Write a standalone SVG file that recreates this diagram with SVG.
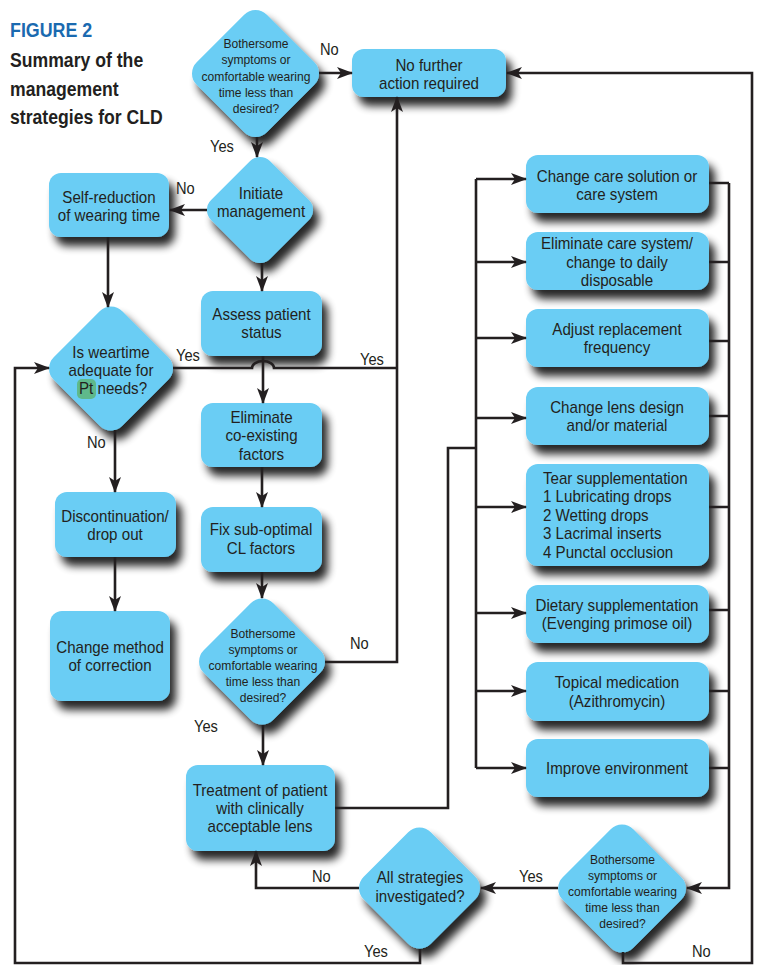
<svg xmlns="http://www.w3.org/2000/svg" width="758" height="965" viewBox="0 0 758 965">
<defs>
<style>
.n{fill:#6acdf4}
.t{font-family:'Liberation Sans',Arial,sans-serif;font-size:17px;fill:#231f20;text-anchor:middle}
.s{font-size:13.6px}
.l{font-size:16.5px;text-anchor:start}
.st{text-anchor:start}
.h{font-family:'Liberation Sans',Arial,sans-serif;font-size:21px;font-weight:bold;fill:#231f20}
.c{fill:none;stroke:#231f20;stroke-width:2.6}
.a{marker-end:url(#ah)}
</style>
<filter id="sh" x="-20%" y="-20%" width="150%" height="160%">
<feGaussianBlur in="SourceAlpha" stdDeviation="4"/>
<feOffset dx="6" dy="9"/>
<feComponentTransfer><feFuncA type="linear" slope="0.85"/></feComponentTransfer>
<feMerge><feMergeNode/><feMergeNode in="SourceGraphic"/></feMerge>
</filter>
<marker id="ah" viewBox="0 0 16 12" refX="15" refY="6" markerWidth="16" markerHeight="12" markerUnits="userSpaceOnUse" orient="auto"><path d="M0,0 L16,6 L0,12 L4,6 z" fill="#231f20"/></marker>
</defs>
<rect width="758" height="965" fill="#ffffff"/>

<g id="title">
<text class="h" transform="matrix(0.85 0 0 1 10 0)" x="0" y="37" style="fill:#1a6ab0">FIGURE 2</text>
<text class="h" transform="matrix(0.84 0 0 1 10 0)"><tspan x="0" y="67">Summary of the</tspan><tspan x="0" y="96">management</tspan><tspan x="0" y="124">strategies for CLD</tspan></text>
</g>

<g id="d1">
<g filter="url(#sh)"><rect class="n" x="205.9" y="23.9" width="99.2" height="99.2" rx="16" transform="rotate(45 255.5 73.5)"/></g>
<text class="t s" transform="matrix(0.89 0 0 1 256 0)"><tspan x="0" y="48">Bothersome</tspan><tspan x="0" y="64">symptoms or</tspan><tspan x="0" y="81">comfortable wearing</tspan><tspan x="0" y="97">time less than</tspan><tspan x="0" y="113">desired?</tspan></text>
</g>

<g id="nofurther">
<rect class="n" x="352" y="49" width="154" height="48" rx="12" filter="url(#sh)"/>
<text class="t" transform="matrix(0.89 0 0 1 429 0)"><tspan x="0" y="71">No further</tspan><tspan x="0" y="89">action required</tspan></text>
</g>

<g id="d2">
<g filter="url(#sh)"><rect class="n" x="218.4" y="168.4" width="83.2" height="83.2" rx="14" transform="rotate(45 260 210)"/></g>
<text class="t" transform="matrix(0.89 0 0 1 261 0)"><tspan x="0" y="199">Initiate</tspan><tspan x="0" y="217">management</tspan></text>
</g>

<g id="selfred">
<rect class="n" x="49" y="173" width="120" height="64" rx="12" filter="url(#sh)"/>
<text class="t" transform="matrix(0.89 0 0 1 109 0)"><tspan x="0" y="203">Self-reduction</tspan><tspan x="0" y="221">of wearing time</tspan></text>
</g>

<g id="d3">
<g filter="url(#sh)"><rect class="n" x="62.5" y="320" width="97" height="97" rx="16" transform="rotate(45 111 368.5)"/></g>
<rect x="77" y="379" width="19" height="20" rx="5" fill="#5fb98b"/>
<text class="t" transform="matrix(0.89 0 0 1 111 0)"><tspan x="0" y="358">Is weartime</tspan><tspan x="0" y="376">adequate for</tspan></text>
<text class="t st" transform="matrix(0.89 0 0 1 79 0)" x="0" y="394">Pt needs?</text>
</g>

<g id="assess">
<rect class="n" x="201" y="291" width="121" height="65" rx="12" filter="url(#sh)"/>
<text class="t" transform="matrix(0.89 0 0 1 261.5 0)"><tspan x="0" y="320">Assess patient</tspan><tspan x="0" y="338">status</tspan></text>
</g>

<g id="eliminate">
<rect class="n" x="201" y="403" width="121" height="64" rx="12" filter="url(#sh)"/>
<text class="t" transform="matrix(0.89 0 0 1 261.5 0)"><tspan x="0" y="423">Eliminate</tspan><tspan x="0" y="441">co-existing</tspan><tspan x="0" y="460">factors</tspan></text>
</g>

<g id="fix">
<rect class="n" x="201" y="507" width="121" height="65" rx="12" filter="url(#sh)"/>
<text class="t" transform="matrix(0.89 0 0 1 261 0)"><tspan x="0" y="535">Fix sub-optimal</tspan><tspan x="0" y="554">CL factors</tspan></text>
</g>

<g id="discont">
<rect class="n" x="55" y="492" width="121" height="65" rx="12" filter="url(#sh)"/>
<text class="t" transform="matrix(0.89 0 0 1 115 0)"><tspan x="0" y="522">Discontinuation/</tspan><tspan x="0" y="540">drop out</tspan></text>
</g>

<g id="changemethod">
<rect class="n" x="50" y="611" width="120" height="90" rx="12" filter="url(#sh)"/>
<text class="t" transform="matrix(0.89 0 0 1 110 0)"><tspan x="0" y="653">Change method</tspan><tspan x="0" y="671">of correction</tspan></text>
</g>

<g id="d4">
<g filter="url(#sh)"><rect class="n" x="212.8" y="612.3" width="98.4" height="98.4" rx="16" transform="rotate(45 262 661.5)"/></g>
<text class="t s" transform="matrix(0.89 0 0 1 263 0)"><tspan x="0" y="638">Bothersome</tspan><tspan x="0" y="654">symptoms or</tspan><tspan x="0" y="670">comfortable wearing</tspan><tspan x="0" y="686">time less than</tspan><tspan x="0" y="702">desired?</tspan></text>
</g>

<g id="treatment">
<rect class="n" x="186" y="765" width="149" height="86" rx="12" filter="url(#sh)"/>
<text class="t" transform="matrix(0.89 0 0 1 260 0)"><tspan x="0" y="796">Treatment of patient</tspan><tspan x="0" y="814">with clinically</tspan><tspan x="0" y="832">acceptable lens</tspan></text>
</g>

<g id="boxA">
<rect class="n" x="526" y="155" width="183" height="58" rx="12" filter="url(#sh)"/>
<text class="t" transform="matrix(0.89 0 0 1 617 0)"><tspan x="0" y="182">Change care solution or</tspan><tspan x="0" y="200">care system</tspan></text>
</g>
<g id="boxB">
<rect class="n" x="526" y="232" width="183" height="58" rx="12" filter="url(#sh)"/>
<text class="t" transform="matrix(0.89 0 0 1 617 0)"><tspan x="0" y="249">Eliminate care system/</tspan><tspan x="0" y="268">change to daily</tspan><tspan x="0" y="286">disposable</tspan></text>
</g>
<g id="boxC">
<rect class="n" x="526" y="309" width="183" height="58" rx="12" filter="url(#sh)"/>
<text class="t" transform="matrix(0.89 0 0 1 617 0)"><tspan x="0" y="335">Adjust replacement</tspan><tspan x="0" y="353">frequency</tspan></text>
</g>
<g id="boxD">
<rect class="n" x="526" y="387" width="183" height="58" rx="12" filter="url(#sh)"/>
<text class="t" transform="matrix(0.89 0 0 1 617 0)"><tspan x="0" y="413">Change lens design</tspan><tspan x="0" y="431">and/or material</tspan></text>
</g>
<g id="boxE">
<rect class="n" x="526" y="464" width="183" height="102" rx="12" filter="url(#sh)"/>
<text class="t st" transform="matrix(0.89 0 0 1 543 0)"><tspan x="0" y="484">Tear supplementation</tspan><tspan x="0" y="502">1 Lubricating drops</tspan><tspan x="0" y="521">2 Wetting drops</tspan><tspan x="0" y="539">3 Lacrimal inserts</tspan><tspan x="0" y="558">4 Punctal occlusion</tspan></text>
</g>
<g id="boxF">
<rect class="n" x="526" y="585" width="183" height="58" rx="12" filter="url(#sh)"/>
<text class="t" transform="matrix(0.89 0 0 1 617 0)"><tspan x="0" y="611">Dietary supplementation</tspan><tspan x="0" y="629">(Evenging primose oil)</tspan></text>
</g>
<g id="boxG">
<rect class="n" x="526" y="662" width="183" height="59" rx="12" filter="url(#sh)"/>
<text class="t" transform="matrix(0.89 0 0 1 617 0)"><tspan x="0" y="688">Topical medication</tspan><tspan x="0" y="707">(Azithromycin)</tspan></text>
</g>
<g id="boxH">
<rect class="n" x="526" y="739" width="183" height="58" rx="12" filter="url(#sh)"/>
<text class="t" transform="matrix(0.89 0 0 1 617 0)" x="0" y="774">Improve environment</text>
</g>

<g id="d5">
<g filter="url(#sh)"><rect class="n" x="572.1" y="838.6" width="99.8" height="99.8" rx="16" transform="rotate(45 622 888.5)"/></g>
<text class="t s" transform="matrix(0.89 0 0 1 622.5 0)"><tspan x="0" y="864">Bothersome</tspan><tspan x="0" y="880">symptoms or</tspan><tspan x="0" y="896">comfortable wearing</tspan><tspan x="0" y="912">time less than</tspan><tspan x="0" y="928">desired?</tspan></text>
</g>

<g id="d6">
<g filter="url(#sh)"><rect class="n" x="372.05" y="840.55" width="94.9" height="94.9" rx="16" transform="rotate(45 419.5 888)"/></g>
<text class="t" transform="matrix(0.89 0 0 1 420 0)"><tspan x="0" y="883">All strategies</tspan><tspan x="0" y="902">investigated?</tspan></text>
</g>

<g id="connectors">
<path class="c a" d="M319,73 H352"/>
<path class="c a" d="M257,137 V157"/>
<path class="c a" d="M207,210 H170"/>
<path class="c a" d="M262,263 V291"/>
<path class="c a" d="M108,237 V307"/>
<path class="c a" d="M115,430 V492"/>
<path class="c a" d="M115,557 V611"/>
<path class="c a" d="M263,356 V403"/>
<path class="c a" d="M262,467 V507"/>
<path class="c a" d="M262,572 V598"/>
<path class="c a" d="M263,725 V765"/>
<path class="c" d="M173,368 H252 A11,7 0 0 1 274,368 H397"/>
<path class="c a" d="M325,662 H397 V97"/>
<path class="c a" d="M359,888 H256 V851"/>
<path class="c a" d="M558,888 H481"/>
<path class="c a" d="M623,952 V963 H752 V73 H507"/>
<path class="c a" d="M420,949 V963 H15 V368 H49"/>
<path class="c" d="M335,808 H448 V448 H476"/>
<path class="c" d="M476,179 V768"/>
<path class="c a" d="M476,179 H526"/>
<path class="c a" d="M476,262 H526"/>
<path class="c a" d="M476,338 H526"/>
<path class="c a" d="M476,418 H526"/>
<path class="c a" d="M476,507 H526"/>
<path class="c a" d="M476,613 H526"/>
<path class="c a" d="M476,691 H526"/>
<path class="c a" d="M476,768 H526"/>
<path class="c" d="M709,183 H729 M709,262 H729 M709,341 H729 M709,416 H729 M709,507 H729 M709,610 H729 M709,691 H729 M709,768 H729"/>
<path class="c a" d="M729,183 V888 H687"/>
</g>

<g id="labels">
<text class="t l" transform="matrix(0.89 0 0 1 320 0)" x="0" y="55">No</text>
<text class="t l" transform="matrix(0.89 0 0 1 210 0)" x="0" y="152">Yes</text>
<text class="t l" transform="matrix(0.89 0 0 1 176 0)" x="0" y="194">No</text>
<text class="t l" transform="matrix(0.89 0 0 1 176 0)" x="0" y="361">Yes</text>
<text class="t l" transform="matrix(0.89 0 0 1 360 0)" x="0" y="365">Yes</text>
<text class="t l" transform="matrix(0.89 0 0 1 87 0)" x="0" y="448">No</text>
<text class="t l" transform="matrix(0.89 0 0 1 350 0)" x="0" y="649">No</text>
<text class="t l" transform="matrix(0.89 0 0 1 194 0)" x="0" y="732">Yes</text>
<text class="t l" transform="matrix(0.89 0 0 1 312 0)" x="0" y="882">No</text>
<text class="t l" transform="matrix(0.89 0 0 1 519 0)" x="0" y="882">Yes</text>
<text class="t l" transform="matrix(0.89 0 0 1 364 0)" x="0" y="957">Yes</text>
<text class="t l" transform="matrix(0.89 0 0 1 692 0)" x="0" y="957">No</text>
</g>
</svg>
